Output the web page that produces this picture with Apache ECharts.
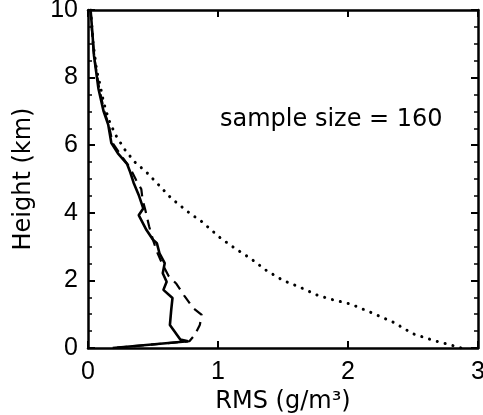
<!DOCTYPE html>
<html>
<head>
<meta charset="utf-8">
<script src="https://cdn.jsdelivr.net/npm/echarts@6/dist/echarts.min.js"></script>
<style>html,body{margin:0;padding:0;background:#fff}#c{width:483px;height:415px}</style>
</head>
<body>
<div id="c"></div>
<script>
// RMS (g/m^3) vs Height (km)
var solidRMS    = [0.02,0.028,0.033,0.046,0.08,0.12,0.156,0.18,0.23,0.3,0.325,0.35,0.39,0.425,0.39,0.45,0.5,0.53,0.55,0.59,0.575,0.605,0.58,0.65,0.64,0.63,0.71,0.77,0.19];
var solidHeight = [10,9.95,9.36,8.65,7.68,7.0,6.6,6.06,5.76,5.45,5.2,4.9,4.53,4.13,3.93,3.49,3.2,3.1,2.8,2.51,2.21,1.96,1.72,1.48,1.12,0.68,0.25,0.2,0];

var dashRMS    = [0.02,0.03,0.048,0.085,0.125,0.16,0.19,0.25,0.32,0.37,0.41,0.42,0.44,0.47,0.5,0.53,0.57,0.62,0.68,0.74,0.81,0.875,0.86,0.82,0.78,0.19];
var dashHeight = [10,9.4,8.6,7.7,7.0,6.6,6.06,5.72,5.35,4.97,4.7,4.38,4.1,3.6,3.2,2.85,2.5,2.13,1.9,1.55,1.18,0.98,0.68,0.38,0.2,0];

var dotRMS    = [0.02,0.03,0.04,0.067,0.092,0.118,0.14,0.17,0.22,0.285,0.36,0.45,0.55,0.64,0.785,0.875,1.02,1.13,1.25,1.37,1.5,1.63,1.76,1.86,2.02,2.19,2.35,2.5,2.66,2.78,2.87];
var dotHeight = [10,9.5,9.0,8.2,7.8,7.3,7.0,6.65,6.25,5.86,5.5,5.2,4.8,4.43,3.98,3.74,3.25,2.95,2.65,2.3,2.0,1.8,1.57,1.45,1.3,1.03,0.76,0.42,0.22,0.1,0.0];

var xTicks = [0,1,2,3];
var yTicks = [0,2,4,6,8,10];
var annotation = 'sample size = 160';

function pairs(xs, ys){ return xs.map(function(x,i){ return [x, ys[i]]; }); }

var chart = echarts.init(document.getElementById('c'));
var lineAxis = {show:true, onZero:false, lineStyle:{color:'#000', width:2.5}};
var tickFont = {color:'#000', fontSize:25, fontFamily:'Liberation Sans'};
var nameFont = {color:'#000', fontSize:24, fontFamily:'DejaVu Sans'};
var majorTick = {inside:true, length:7, lineStyle:{color:'#000', width:2}};
var minorTickY = {show:true, splitNumber:4, length:4, lineStyle:{color:'#000', width:1.5}};
chart.setOption({
  animation:false,
  grid:{left:88, right:5, top:10, bottom:67, containLabel:false, outerBoundsMode:'none'},
  xAxis:[
    {type:'value', min:0, max:3, interval:1, axisLine:lineAxis, axisTick:majorTick,
     splitLine:{show:false},
     axisLabel:Object.assign({margin:12, formatter:function(v){return xTicks.indexOf(v)>=0?String(v):'';}}, tickFont),
     name:'RMS (g/m³)', nameLocation:'middle', nameGap:36, nameTextStyle:nameFont},
    {type:'value', min:0, max:3, interval:1, position:'top', axisLine:lineAxis, axisTick:majorTick,
     splitLine:{show:false}, axisLabel:{show:false}}
  ],
  yAxis:[
    {type:'value', min:0, max:10, interval:2, axisLine:lineAxis, axisTick:majorTick,
     minorTick:minorTickY, splitLine:{show:false}, minorSplitLine:{show:false},
     axisLabel:Object.assign({margin:10, formatter:function(v){return yTicks.indexOf(v)>=0?String(v):'';}}, tickFont),
     name:'Height (km)', nameLocation:'middle', nameGap:52, nameTextStyle:nameFont},
    {type:'value', min:0, max:10, interval:2, position:'right', axisLine:lineAxis, axisTick:majorTick,
     minorTick:minorTickY, splitLine:{show:false}, minorSplitLine:{show:false}, axisLabel:{show:false}}
  ],
  series:[
    {type:'line', data:pairs(dotRMS, dotHeight), showSymbol:false, symbol:'none',
     lineStyle:{color:'#000', width:3, type:[0.1,8], cap:'round'}},
    {type:'line', data:pairs(dashRMS, dashHeight), showSymbol:false, symbol:'none',
     lineStyle:{color:'#000', width:2.2, type:[10,7]}},
    {type:'line', data:pairs(solidRMS, solidHeight), showSymbol:false, symbol:'none',
     lineStyle:{color:'#000', width:2.6}}
  ],
  graphic:[
    {type:'text', left:220, top:108, style:{text:annotation, fill:'#000', font:'24px "DejaVu Sans"'}}
  ]
});
</script>
</body>
</html>
